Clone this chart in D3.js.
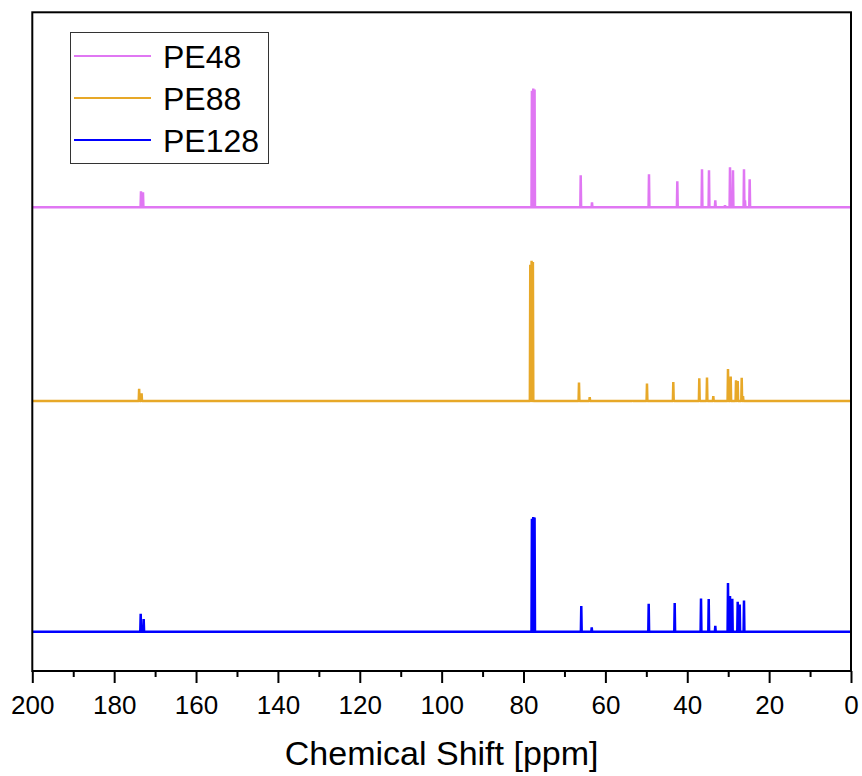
<!DOCTYPE html>
<html>
<head>
<meta charset="utf-8">
<script src="https://cdn.jsdelivr.net/npm/d3@7/dist/d3.min.js"></script>
<style>
  html, body { margin: 0; padding: 0; background: #fff; }
  svg { display: block; font-family: "Liberation Sans", Arial, sans-serif; }
</style>
</head>
<body>
<svg id="chart" width="862" height="776"></svg>
<script>
// 13C NMR peak lists (chemical shift in ppm, relative intensity)
const seriesNames = ["PE48", "PE88", "PE128"];
const seriesColors = ["#E077F3", "#E7A828", "#0000FF"];
const seriesOffsets = [357, 194, 0];

const pe48Shifts = [173.45, 172.96, 77.95, 77.62, 77.30, 66.03, 63.27, 49.35, 42.43, 36.40, 34.69, 33.15, 30.78, 29.56, 28.83, 26.14, 25.90, 24.75];
const pe48Heights = [13.4, 12.6, 98, 100, 99, 26.9, 4.2, 27.7, 21.8, 31.9, 31.1, 5.9, 1.7, 33.6, 31.1, 31.9, 5.9, 23.5];

const pe88Shifts = [173.90, 173.30, 78.35, 78.03, 77.71, 66.45, 63.83, 53.30, 49.84, 43.41, 37.06, 35.18, 33.64, 30.05, 29.39, 28.09, 27.68, 26.70, 26.38];
const pe88Heights = [10.4, 6.5, 114.7, 118, 117, 15.6, 3.4, 0.8, 14.8, 16, 19.3, 19.8, 4.2, 26.9, 20.7, 17.6, 16.8, 19.7, 4.2];

const pe128Shifts = [173.52, 172.79, 77.95, 77.62, 77.30, 65.89, 63.34, 49.42, 43.07, 36.64, 34.76, 33.15, 30.05, 29.56, 29.00, 27.68, 27.19, 26.14];
const pe128Heights = [15.1, 10.7, 95, 96.6, 96, 21.6, 3.6, 23.5, 24.1, 28, 27.5, 5, 40.9, 30, 27.7, 25.2, 22.9, 26.3];

const xDomain = [200, 0];
const yDomain = [-33, 521];
const majorTicks = [200, 180, 160, 140, 120, 100, 80, 60, 40, 20, 0];
const minorTicks = [190, 170, 150, 130, 110, 90, 70, 50, 30, 10];
const xTitle = "Chemical Shift [ppm]";

const shifts = [pe48Shifts, pe88Shifts, pe128Shifts];
const heights = [pe48Heights, pe88Heights, pe128Heights];

// plot frame
const frame = { left: 32.3, right: 851, top: 12.3, bottom: 671 };

const svg = d3.select("#chart");
const x = d3.scaleLinear().domain(xDomain).range([frame.left, frame.right]);
const y = d3.scaleLinear().domain(yDomain).range([frame.bottom, frame.top]);

// half width of a line at its base, in ppm
const halfWidth = 0.1;

function spectrumPoints(ppm, h, offset) {
  const peaks = ppm.map((p, i) => ({ p, h: h[i] })).sort((a, b) => b.p - a.p);
  const pts = [[xDomain[0], offset]];
  peaks.forEach(pk => {
    pts.push([pk.p + halfWidth, offset]);
    pts.push([pk.p, offset + pk.h]);
    pts.push([pk.p - halfWidth, offset]);
  });
  pts.push([xDomain[1], offset]);
  return pts;
}

const line = d3.line().x(d => x(d[0])).y(d => y(d[1]));

const plot = svg.append("g");
seriesNames.forEach((name, i) => {
  plot.append("path")
    .attr("d", line(spectrumPoints(shifts[i], heights[i], seriesOffsets[i])))
    .attr("fill", "none")
    .attr("stroke", seriesColors[i])
    .attr("stroke-width", 2.5)
    .attr("stroke-linejoin", "bevel");
});

// frame
svg.append("rect")
  .attr("x", frame.left).attr("y", frame.top)
  .attr("width", frame.right - frame.left).attr("height", frame.bottom - frame.top)
  .attr("fill", "none").attr("stroke", "#000").attr("stroke-width", 2);

// bottom axis: major ticks with labels
const axis = svg.append("g").attr("transform", `translate(0,${frame.bottom})`)
  .call(d3.axisBottom(x).tickValues(majorTicks).tickSizeInner(12).tickSizeOuter(0).tickPadding(0).tickFormat(d3.format("d")));
axis.select(".domain").remove();
axis.selectAll(".tick line").attr("stroke", "#000").attr("stroke-width", 2);
axis.selectAll(".tick text")
  .attr("y", 43).attr("dy", 0)
  .attr("font-size", 26)
  .attr("font-family", "Liberation Sans, Arial, sans-serif")
  .attr("fill", "#000");

// minor ticks
const minor = svg.append("g").attr("transform", `translate(0,${frame.bottom})`)
  .call(d3.axisBottom(x).tickValues(minorTicks).tickSizeInner(6).tickSizeOuter(0).tickFormat(""));
minor.select(".domain").remove();
minor.selectAll(".tick line").attr("stroke", "#000").attr("stroke-width", 2);

// axis title
svg.append("text")
  .attr("x", (frame.left + frame.right) / 2).attr("y", 765)
  .attr("text-anchor", "middle")
  .attr("font-size", 34)
  .attr("fill", "#000")
  .text(xTitle);

// legend
const legend = svg.append("g");
legend.append("rect")
  .attr("x", 70.5).attr("y", 32.5).attr("width", 198).attr("height", 131)
  .attr("fill", "#fff").attr("stroke", "#333").attr("stroke-width", 1);
seriesNames.forEach((name, i) => {
  const ly = 56 + i * 42;
  legend.append("line")
    .attr("x1", 74).attr("x2", 151).attr("y1", ly).attr("y2", ly)
    .attr("stroke", seriesColors[i]).attr("stroke-width", 2);
  legend.append("text")
    .attr("x", 163).attr("y", ly + 12)
    .attr("font-size", 32)
    .attr("fill", "#000")
    .text(name);
});
</script>
</body>
</html>
